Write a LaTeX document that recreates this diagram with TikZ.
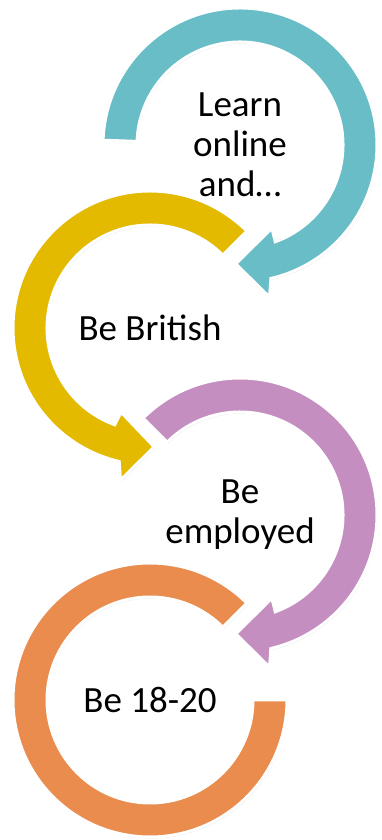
\documentclass[tikz,border=0pt]{standalone}
\usepackage{fontspec}
\setmainfont{Carlito}
\usepackage{tikz}
\usetikzlibrary{calc,shadows}
\usepackage{xcolor}
\definecolor{cyclecyan}{RGB}{104,189,198}
\definecolor{cycleyellow}{RGB}{227,186,0}
\definecolor{cyclepurple}{RGB}{196,142,193}
\definecolor{cycleorange}{RGB}{233,140,77}

\begin{document}
\begin{tikzpicture}[x=1pt,y=1pt,
        cyclearrow/.style={draw=white,line width=3pt,line join=miter,
            drop shadow={opacity=0.22,shadow xshift=1pt,shadow yshift=-1.5pt}},
        cyclelabel/.style={align=center,text=black,font=\fontsize{37}{40}\selectfont}]
        \useasboundingbox (0,0) rectangle (382,840);

        % Centres of the four rings
        \coordinate (c1) at (240,695);
        \coordinate (c2) at (150,512);
        \coordinate (c3) at (240,325);
        \coordinate (c4) at (150,140);

        % Arrow 1
        \path[cyclearrow,fill=cyclecyan] ($(c1)+(178:137)$) arc[start angle=178,end angle=-77,radius=137]
            -- ($(c1)+(-79:155)$) -- ($(c1)+(-92:119)$) -- ($(c1)+(-69:89)$)
            -- ($(c1)+(-70:103)$) arc[start angle=-70,end angle=178,radius=103] -- cycle;

        % Arrow 2
        \path[cyclearrow,fill=cycleyellow] ($(c2)+(45:137)$) arc[start angle=45,end angle=257,radius=137]
            -- ($(c2)+(259:155)$) -- ($(c2)+(272:119)$) -- ($(c2)+(251:89)$)
            -- ($(c2)+(250:103)$) arc[start angle=250,end angle=45,radius=103] -- cycle;

        % Arrow 3
        \path[cyclearrow,fill=cyclepurple] ($(c3)+(135:137)$) arc[start angle=135,end angle=-77,radius=137]
            -- ($(c3)+(-79:155)$) -- ($(c3)+(-92:119)$) -- ($(c3)+(-69:89)$)
            -- ($(c3)+(-70:103)$) arc[start angle=-70,end angle=135,radius=103] -- cycle;

        % Ring 4 (no head)
        \path[cyclearrow,fill=cycleorange] ($(c4)+(45:137)$) arc[start angle=45,end angle=360,radius=137]
            -- ($(c4)+(0:103)$) arc[start angle=360,end angle=45,radius=103] -- cycle;

        % Labels
        \node[cyclelabel] (learn) at (c1) {Learn\\online\\and…};
        \node[cyclelabel] (british) at (c2) {Be British};
        \node[cyclelabel] (employed) at (c3) {Be\\employed};
        \node[cyclelabel] (age) at (c4) {Be 18-20};
    \end{tikzpicture}
\end{document}
